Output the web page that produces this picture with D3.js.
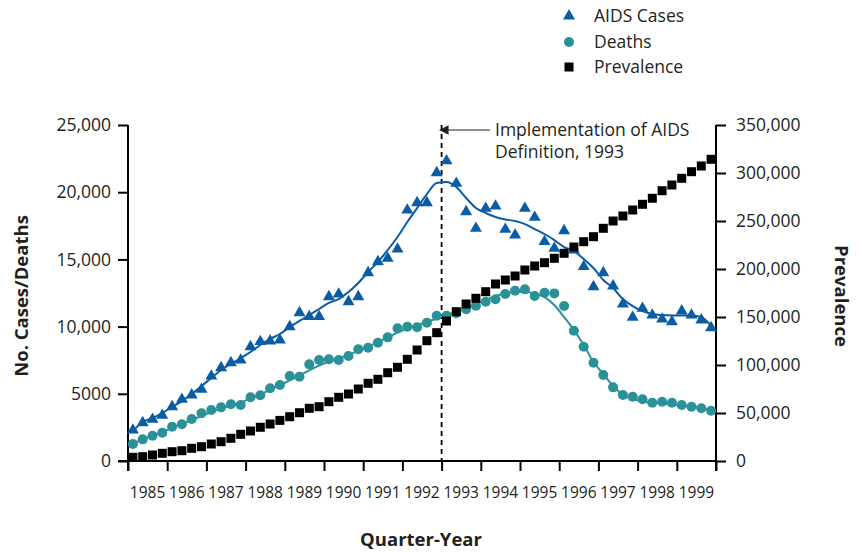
<!DOCTYPE html>
<html><head><meta charset="utf-8">
<script src="https://cdn.jsdelivr.net/npm/d3@7"></script>
<style>
body{margin:0;background:#fff}
svg{display:block}
text{font-family:"Open Sans",sans-serif;fill:#231f20}
</style>
</head><body>
<svg id="c" width="859" height="552"></svg>
<script>
const years = [1985,1986,1987,1988,1989,1990,1991,1992,1993,1994,1995,1996,1997,1998,1999];
const seriesNames = ["AIDS Cases","Deaths","Prevalence"];
const cases = [2300,2850,3100,3400,4040,4590,4910,5330,6320,6940,7310,7510,8500,8880,8930,9000,
  9990,11030,10740,10740,12220,12420,11850,12220,14010,14830,15080,15770,18670,19220,19220,21450,
  22330,20660,18550,17310,18800,18970,17240,16810,18800,18130,16320,15820,17130,15700,14460,12970,
  14010,13020,11680,10690,11360,10860,10560,10360,11160,10860,10490,9920];
const casesTrend = [2230,2900,3200,3570,4020,4460,4980,5580,6180,6770,7220,7660,8110,8630,9080,9450,
  9970,10420,10860,11310,11760,12050,12570,13240,14060,14800,15700,16670,17780,18820,19860,20680,
  20760,20390,19570,18820,18450,18150,17970,17860,17630,17260,16890,16440,15920,15620,15030,14360,
  13470,12870,12050,11530,11160,10940,10860,10830,10830,10830,10710,10040];
const deaths = [1265,1610,1880,2110,2550,2730,3125,3550,3790,3990,4220,4170,4740,4890,5410,5650,
  6320,6270,7190,7510,7570,7510,7810,8310,8430,8800,9200,9870,9990,9950,10290,10810,
  10810,10990,11290,11550,11850,12030,12420,12670,12770,12280,12520,12470,11530,9690,8500,7310,
  6400,5480,4910,4780,4590,4340,4410,4340,4170,4040,3920,3740];
const deathsTrend = [1300,1600,1900,2150,2450,2750,3050,3350,3650,3900,4150,4350,4650,4950,5300,5650,
  6000,6350,6750,7100,7400,7650,7900,8200,8500,8850,9200,9550,9850,10100,10350,10600,
  10850,11100,11360,11680,11980,12280,12460,12570,12570,12460,12200,11610,10710,9750,8630,7370,
  6470,5580,4910,4610,4430,4350,4280,4200,4130,4050,3940,3760];
const prevalence = [3850,4480,6250,8020,9690,10730,13230,14900,17710,20100,23650,27810,31250,35110,38540,42300,
  46150,50310,54900,56560,61770,66350,69790,75000,80940,85100,91980,97610,105940,115630,125310,133650,
  145830,155520,163540,169480,176360,184380,188540,192710,198960,203130,206560,211150,216350,222900,228440,233650,
  242400,250000,255220,261460,267400,273650,281570,287500,294490,301360,307290,314280];
const leftTicks = [0,5000,10000,15000,20000,25000];
const rightTicks = [0,50000,100000,150000,200000,250000,300000,350000];
const annotationLines = ["Implementation of AIDS","Definition, 1993"];
const definitionYear = 1993;

const BLUE = "#0a5ca3", TEAL = "#2a9198", BLACK = "#000";
const svg = d3.select("#c");
const L = 128, R = 716, T = 125, B = 461;

const x = d3.scaleLinear().domain([years[0], years[years.length-1]+1]).range([L, R]);
const yL = d3.scaleLinear().domain([0, 25000]).range([B, T]);
const yR = d3.scaleLinear().domain([0, 350000]).range([B, T]);
const qx = i => x(years[0] + (i + 0.5) / 4);

// dashed definition line
svg.append("line").attr("x1", x(definitionYear)).attr("x2", x(definitionYear))
  .attr("y1", T).attr("y2", B).attr("stroke", "#000").attr("stroke-width", 1.8)
  .attr("stroke-dasharray", "5,4");

// axes
const fmtL = v => v >= 10000 ? d3.format(",")(v) : String(v);
const gL = svg.append("g").attr("transform", `translate(${L},0)`)
  .call(d3.axisLeft(yL).tickValues(leftTicks).tickFormat(fmtL).tickSize(10).tickPadding(7));
const gR = svg.append("g").attr("transform", `translate(${R},0)`)
  .call(d3.axisRight(yR).tickValues(rightTicks).tickFormat(d3.format(",")).tickSize(10).tickPadding(10));
const yearTicks = years.concat([years[years.length-1]+1]);
const gX = svg.append("g").attr("transform", `translate(0,${B})`)
  .call(d3.axisBottom(x).tickValues(yearTicks).tickFormat("").tickSize(10));
[gL, gR, gX].forEach(g => {
  g.select(".domain").remove();
  g.selectAll(".tick line").attr("stroke", "#000").attr("stroke-width", 2);
  g.selectAll(".tick text").style("font-family", '"Open Sans",sans-serif').style("font-size", "17.5px").attr("fill", "#231f20");
});
svg.append("line").attr("x1", L).attr("x2", L).attr("y1", T).attr("y2", B + 10).attr("stroke", "#000").attr("stroke-width", 2);
svg.append("line").attr("x1", R).attr("x2", R).attr("y1", T).attr("y2", B + 10).attr("stroke", "#000").attr("stroke-width", 2);
svg.append("line").attr("x1", L - 10).attr("x2", R).attr("y1", B).attr("y2", B).attr("stroke", "#000").attr("stroke-width", 2);

// year labels centered in each interval
svg.append("g").selectAll("text").data(years).join("text")
  .attr("x", d => x(d + 0.5)).attr("y", B + 37).attr("text-anchor", "middle")
  .style("font-size", "15.5px").text(d => d);

// lines
const lineL = d3.line().x((d, i) => qx(i)).y(d => yL(d)).curve(d3.curveMonotoneX);
svg.append("path").attr("d", lineL(deathsTrend)).attr("fill", "none").attr("stroke", TEAL).attr("stroke-width", 2);
svg.append("path").attr("d", lineL(casesTrend)).attr("fill", "none").attr("stroke", BLUE).attr("stroke-width", 2);

// markers
svg.append("g").selectAll("circle").data(deaths).join("circle")
  .attr("cx", (d, i) => qx(i)).attr("cy", d => yL(d)).attr("r", 5).attr("fill", TEAL);
const tri = d3.symbol().type(d3.symbolTriangle).size(62);
svg.append("g").selectAll("path").data(cases).join("path")
  .attr("d", tri).attr("transform", (d, i) => `translate(${qx(i)},${yL(d)})`).attr("fill", BLUE);
svg.append("g").selectAll("rect").data(prevalence).join("rect")
  .attr("x", (d, i) => qx(i) - 4.5).attr("y", d => yR(d) - 4.5).attr("width", 9).attr("height", 9).attr("fill", BLACK);

// annotation
const ax = x(definitionYear);
svg.append("defs").append("marker").attr("id", "ah").attr("viewBox", "0 0 10 10").attr("refX", 1).attr("refY", 5)
  .attr("markerWidth", 8).attr("markerHeight", 8).attr("orient", "auto-start-reverse")
  .append("path").attr("d", "M0,0 L10,5 L0,10 z").attr("fill", "#231f20");
svg.append("line").attr("x1", 490).attr("x2", ax + 6).attr("y1", 130).attr("y2", 130)
  .attr("stroke", "#231f20").attr("stroke-width", 1.2).attr("marker-end", "url(#ah)");
svg.append("g").selectAll("text").data(annotationLines).join("text")
  .attr("x", 495).attr("y", (d, i) => 136 + i * 22).style("font-size", "17.5px").text(d => d);

// legend
const lg = svg.append("g");
const legendY = [16, 42, 67];
lg.append("path").attr("d", d3.symbol().type(d3.symbolTriangle).size(62)()).attr("transform", `translate(569,${legendY[0]})`).attr("fill", BLUE);
lg.append("circle").attr("cx", 569).attr("cy", legendY[1]).attr("r", 5).attr("fill", TEAL);
lg.append("rect").attr("x", 564.5).attr("y", legendY[2] - 4.5).attr("width", 9).attr("height", 9).attr("fill", BLACK);
lg.selectAll("text").data(seriesNames).join("text")
  .attr("x", 594).attr("y", (d, i) => legendY[i] + 6).style("font-size", "17.5px").text(d => d);

// axis titles
svg.append("text").attr("transform", "translate(28,296) rotate(-90)").attr("text-anchor", "middle")
  .style("font-size", "18.5px").style("font-weight", "bold").text("No. Cases/Deaths");
svg.append("text").attr("transform", "translate(835,296) rotate(90)").attr("text-anchor", "middle")
  .style("font-size", "18.5px").style("font-weight", "bold").text("Prevalence");
svg.append("text").attr("x", 421).attr("y", 546).attr("text-anchor", "middle")
  .style("font-size", "18.5px").style("font-weight", "bold").text("Quarter-Year");
</script>
</body></html>
